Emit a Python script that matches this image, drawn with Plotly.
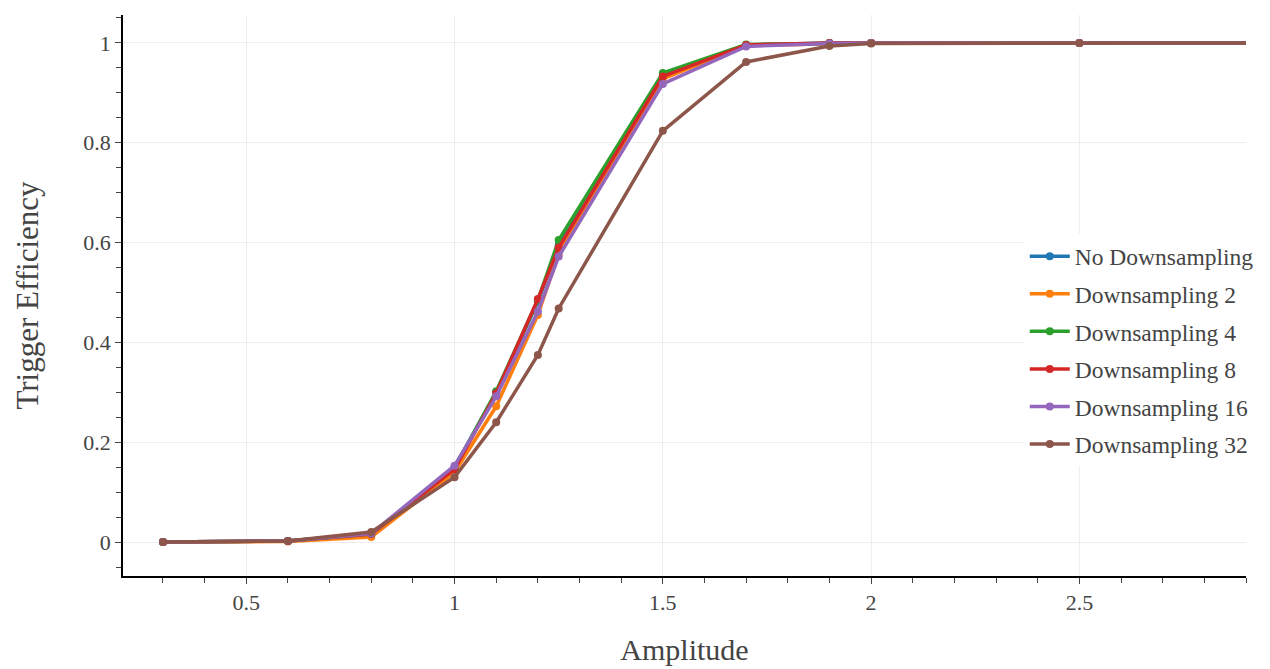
import plotly.graph_objects as go

amplitude = [0.3, 0.6, 0.8, 1.0, 1.1, 1.2, 1.25, 1.5, 1.7, 1.9, 2.0, 2.5, 3.0]

no_ds = [0.0, 0.002, 0.016, 0.150, 0.300, 0.482, 0.595, 0.935, 0.996, 1.0, 1.0, 1.0, 1.0]
ds_2 = [0.0, 0.001, 0.010, 0.140, 0.272, 0.455, 0.578, 0.928, 0.995, 0.999, 1.0, 1.0, 1.0]
ds_4 = [0.0, 0.002, 0.016, 0.148, 0.302, 0.485, 0.605, 0.940, 0.997, 1.0, 1.0, 1.0, 1.0]
ds_8 = [0.0, 0.002, 0.016, 0.146, 0.298, 0.487, 0.590, 0.933, 0.996, 1.0, 1.0, 1.0, 1.0]
ds_16 = [0.0, 0.002, 0.017, 0.153, 0.292, 0.462, 0.572, 0.918, 0.993, 0.999, 1.0, 1.0, 1.0]
ds_32 = [0.0, 0.002, 0.020, 0.130, 0.240, 0.375, 0.468, 0.824, 0.962, 0.994, 0.999, 1.0, 1.0]

names = ["No Downsampling", "Downsampling 2", "Downsampling 4",
         "Downsampling 8", "Downsampling 16", "Downsampling 32"]
series = [no_ds, ds_2, ds_4, ds_8, ds_16, ds_32]
colors = ["#1f77b4", "#ff7f0e", "#2ca02c", "#d62728", "#9467bd", "#8c564b"]

fig = go.Figure()
for i, (name, vals, c) in enumerate(zip(names, series, colors)):
    fig.add_trace(go.Scatter(
        x=amplitude, y=vals, name=name, mode="lines+markers",
        legendgroup=f"g{i}",
        line=dict(color=c, width=3.5), marker=dict(color=c, size=8),
    ))

font_family = "Liberation Serif, Times New Roman, serif"
fig.update_layout(
    template="simple_white",
    width=1270, height=669,
    margin=dict(l=115, r=32, t=7, b=101),
    font=dict(family=font_family, size=22, color="#444"),
    legend=dict(x=0.803, xanchor="left", y=0.402, yanchor="middle",
                bgcolor="white", font=dict(size=23.5), tracegroupgap=4,
                itemwidth=40),
    plot_bgcolor="white", paper_bgcolor="white",
)
fig.update_xaxes(
    title=dict(text="Amplitude", font=dict(size=30), standoff=25),
    range=[0.204, 2.9], showgrid=True, gridcolor="#eeeeee",
    tick0=0, dtick=0.5, ticks="outside", ticklen=6,
    minor=dict(dtick=0.1, tick0=0, ticks="outside", ticklen=5, showgrid=False),
    showline=True, linecolor="black", linewidth=1.5, zeroline=False,
)
fig.update_yaxes(
    title=dict(text="Trigger Efficiency", font=dict(size=31), standoff=35),
    range=[-0.068, 1.056], showgrid=True, gridcolor="#eeeeee",
    tick0=0, dtick=0.2, ticks="outside", ticklen=6,
    minor=dict(dtick=0.05, tick0=0, ticks="outside", ticklen=5, showgrid=False),
    showline=True, linecolor="black", linewidth=1.5, zeroline=False,
)

fig.write_html("out.html")
